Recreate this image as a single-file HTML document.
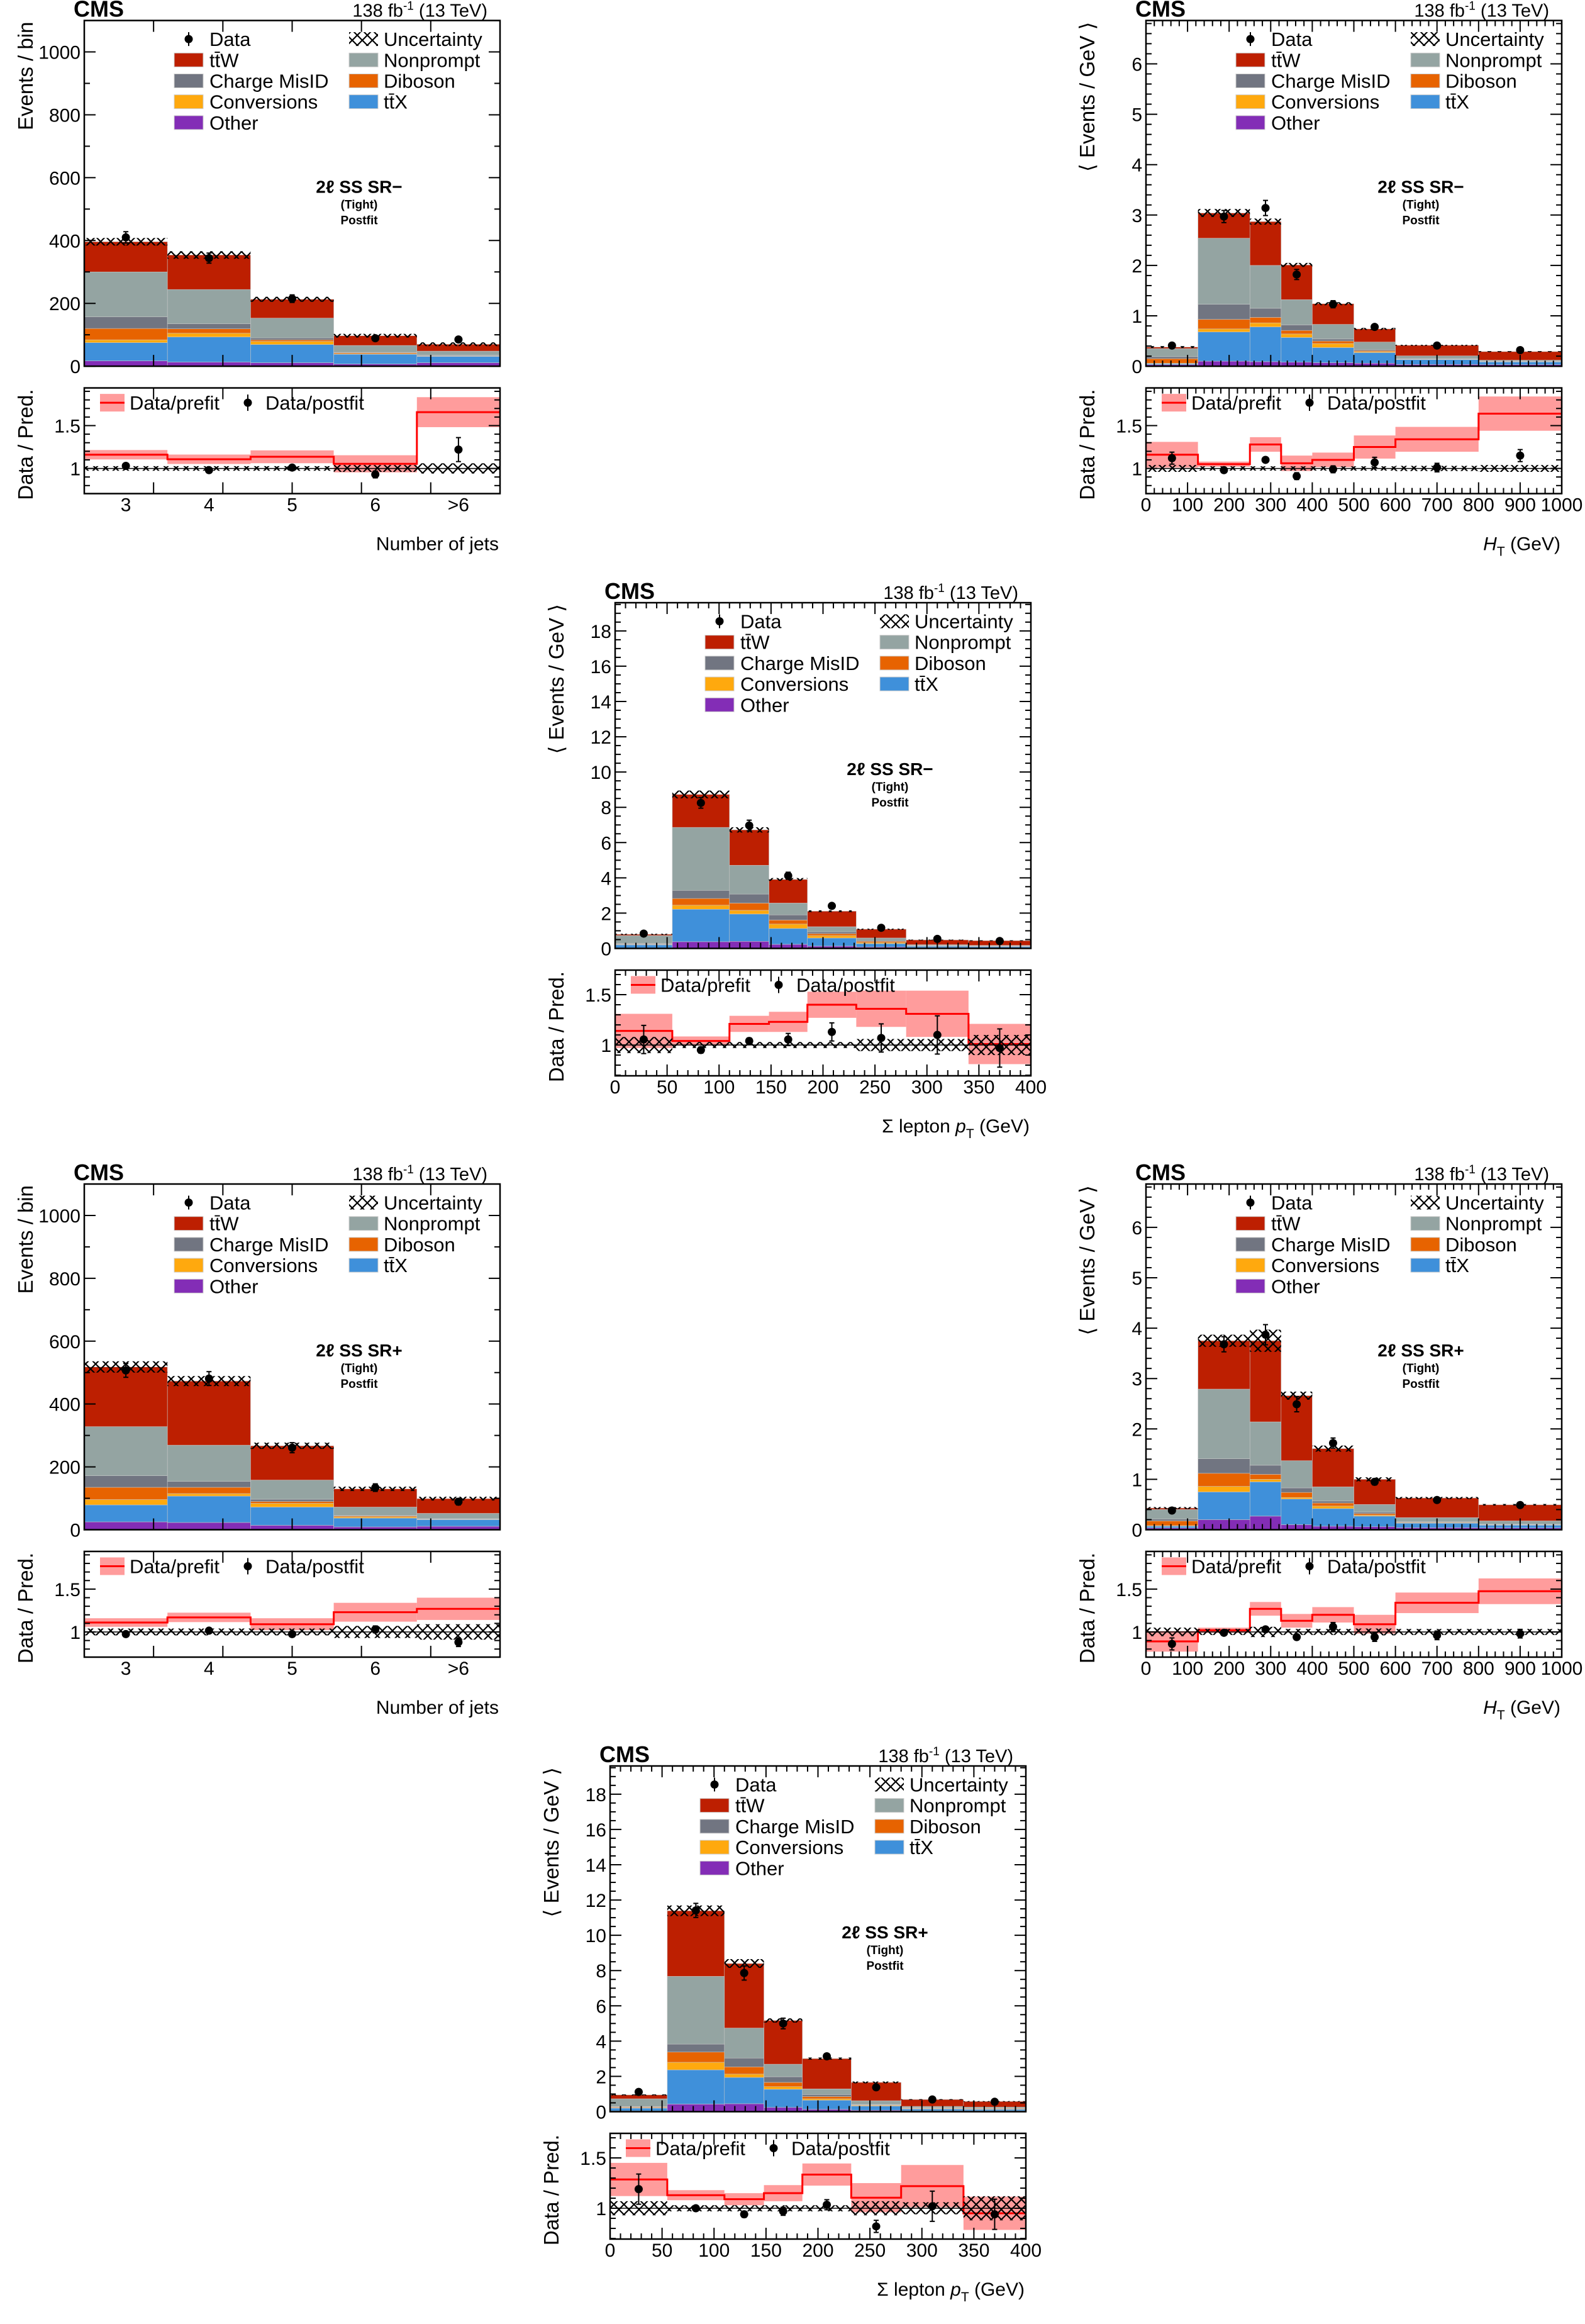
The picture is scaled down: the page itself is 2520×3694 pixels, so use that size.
<!DOCTYPE html>
<html><head><meta charset="utf-8"><style>
html,body{margin:0;padding:0;background:#fff;}
svg{display:block;font-family:"Liberation Sans",sans-serif;}
</style></head><body>
<svg id="fig" xmlns="http://www.w3.org/2000/svg" width="2520" height="3694" viewBox="0 0 2520 3694">
<defs>
<pattern id="hatch" width="16" height="16" patternUnits="userSpaceOnUse"><path d="M0,0 L16,16 M16,0 L0,16" stroke="#000" stroke-width="2.2"/></pattern>
</defs>
</svg>
<script>
// ---------- Panel 1: Njets SR- ----------
const p1Edges=[2.5,3.5,4.5,5.5,6.5,7.5];
const p1Other=[17,13,11,7,11];
const p1Ttx=[58,80,58,31,20];
const p1Conv=[9,12,10,2,1];
const p1Dib=[36,14,5,3,1];
const p1Cmid=[37,16,6,1,2];
const p1Np=[143,109,63,22,13];
const p1Ttw=[96,110,60,31,22];
const p1Data=[410,344,215,89,85];
const p1DataErr=[18,16,12,8,8];
const p1Unc=[12,12,8,6,6];
const p1Prefit=[1.16,1.107,1.136,1.054,1.657];
const p1PrefitErr=[0.055,0.055,0.075,0.1,0.175];
const p1Postfit=[1.03,0.98,1.01,0.93,1.22];
const p1PostfitErr=[0.02,0.02,0.03,0.04,0.14];
const p1RatioUnc=[0.027,0.027,0.027,0.04,0.06];
// ---------- Panel 2: HT SR- ----------
const p2Edges=[0,125,250,325,400,500,600,800,1000];
const p2Other=[0.03,0.10,0.09,0.08,0.07,0.06,0.035,0.03];
const p2Ttx=[0.02,0.58,0.69,0.49,0.30,0.21,0.095,0.055];
const p2Conv=[0.01,0.06,0.08,0.07,0.08,0.02,0.005,0.005];
const p2Dib=[0.09,0.19,0.11,0.07,0.05,0.02,0.005,0.005];
const p2Cmid=[0.04,0.30,0.18,0.11,0.04,0.02,0.01,0.005];
const p2Np=[0.16,1.31,0.85,0.50,0.29,0.15,0.055,0.02];
const p2Ttw=[0.03,0.50,0.87,0.69,0.41,0.26,0.21,0.17];
const p2Data=[0.41,2.97,3.14,1.82,1.23,0.78,0.41,0.32];
const p2DataErr=[0.03,0.12,0.15,0.1,0.07,0.05,0.03,0.02];
const p2Unc=[0.02,0.08,0.06,0.04,0.03,0.02,0.01,0.01];
const p2Prefit=[1.16,1.05,1.28,1.06,1.10,1.25,1.34,1.64];
const p2PrefitErr=[0.15,0.03,0.085,0.09,0.085,0.135,0.145,0.2];
const p2Postfit=[1.12,0.98,1.10,0.91,0.99,1.07,1.01,1.15];
const p2PostfitErr=[0.07,0.02,0.03,0.04,0.04,0.06,0.05,0.07];
const p2RatioUnc=[0.04,0.025,0.025,0.025,0.025,0.025,0.03,0.04];
// ---------- Panel 3: sum lepton pT SR- ----------
const p3Edges=[0,55,110,148,185,232,280,340,400];
const p3Other=[0.03,0.38,0.40,0.23,0.13,0.08,0.04,0.04];
const p3Ttx=[0.17,1.84,1.55,0.90,0.46,0.19,0.08,0.06];
const p3Conv=[0.02,0.23,0.21,0.25,0.14,0.06,0.02,0.02];
const p3Dib=[0.03,0.38,0.41,0.23,0.11,0.07,0.02,0.02];
const p3Cmid=[0.03,0.46,0.51,0.29,0.10,0.04,0.01,0.01];
const p3Np=[0.45,3.57,1.63,0.67,0.29,0.15,0.04,0.02];
const p3Ttw=[0.07,1.87,2.01,1.34,0.88,0.50,0.27,0.27];
const p3Data=[0.84,8.25,6.97,4.12,2.41,1.17,0.54,0.42];
const p3DataErr=[0.05,0.3,0.3,0.2,0.12,0.07,0.04,0.03];
const p3Unc=[0.03,0.22,0.15,0.08,0.05,0.03,0.02,0.02];
const p3Prefit=[1.14,1.04,1.21,1.23,1.40,1.36,1.31,1.01];
const p3PrefitErr=[0.17,0.045,0.08,0.1,0.13,0.18,0.23,0.2];
const p3Postfit=[1.055,0.95,1.04,1.055,1.13,1.07,1.10,0.97];
const p3PostfitErr=[0.14,0.03,0.03,0.06,0.09,0.14,0.19,0.19];
const p3RatioUnc=[0.08,0.03,0.03,0.03,0.03,0.06,0.06,0.1];
// ---------- Panel 4: Njets SR+ ----------
const p4Edges=[2.5,3.5,4.5,5.5,6.5,7.5];
const p4Other=[25,23,14,9,11];
const p4Ttx=[54,84,58,28,21];
const p4Conv=[17,8,12,4,1];
const p4Dib=[39,20,6,3,1];
const p4Cmid=[37,19,7,1,1];
const p4Np=[156,115,61,27,17];
const p4Ttw=[190,204,109,58,47];
const p4Data=[507,481,261,134,89];
const p4DataErr=[22,22,16,12,10];
const p4Unc=[18,16,10,7,6];
const p4Prefit=[1.11,1.17,1.09,1.23,1.27];
const p4PrefitErr=[0.05,0.055,0.07,0.11,0.13];
const p4Postfit=[0.975,1.015,0.975,1.03,0.88];
const p4PostfitErr=[0.02,0.02,0.03,0.04,0.05];
const p4RatioUnc=[0.04,0.04,0.04,0.07,0.09];
// ---------- Panel 5: HT SR+ ----------
const p5Edges=[0,125,250,325,400,500,600,800,1000];
const p5Other=[0.035,0.20,0.27,0.10,0.07,0.06,0.04,0.035];
const p5Ttx=[0.035,0.55,0.68,0.51,0.35,0.21,0.09,0.055];
const p5Conv=[0.01,0.11,0.05,0.03,0.05,0.02,0.01,0.008];
const p5Dib=[0.095,0.26,0.10,0.10,0.06,0.03,0.01,0.007];
const p5Cmid=[0.035,0.29,0.18,0.09,0.04,0.03,0.01,0.005];
const p5Np=[0.19,1.38,0.86,0.54,0.28,0.15,0.08,0.065];
const p5Ttw=[0.03,0.96,1.61,1.29,0.76,0.50,0.39,0.32];
const p5Data=[0.38,3.68,3.87,2.49,1.72,0.95,0.59,0.49];
const p5DataErr=[0.03,0.15,0.2,0.15,0.1,0.06,0.04,0.03];
const p5Unc=[0.02,0.12,0.22,0.08,0.06,0.04,0.02,0.015];
const p5Prefit=[0.89,1.02,1.27,1.13,1.20,1.09,1.34,1.475];
const p5PrefitErr=[0.12,0.03,0.08,0.08,0.09,0.11,0.12,0.15];
const p5Postfit=[0.86,0.99,1.03,0.94,1.06,0.94,0.96,0.98];
const p5PostfitErr=[0.07,0.02,0.03,0.03,0.05,0.05,0.05,0.05];
const p5RatioUnc=[0.05,0.035,0.06,0.035,0.035,0.04,0.035,0.035];
// ---------- Panel 6: sum lepton pT SR+ ----------
const p6Edges=[0,55,110,148,185,232,280,340,400];
const p6Other=[0.04,0.43,0.45,0.24,0.13,0.08,0.05,0.05];
const p6Ttx=[0.16,1.94,1.49,1.03,0.52,0.24,0.10,0.08];
const p6Conv=[0.03,0.43,0.19,0.15,0.08,0.04,0.03,0.03];
const p6Dib=[0.04,0.58,0.41,0.24,0.13,0.03,0.03,0.03];
const p6Cmid=[0.02,0.45,0.50,0.32,0.11,0.02,0.02,0.01];
const p6Np=[0.44,3.84,1.70,0.71,0.32,0.21,0.07,0.06];
const p6Ttw=[0.22,3.72,3.66,2.48,1.72,1.04,0.39,0.32];
const p6Data=[1.12,11.41,7.86,5.0,3.14,1.38,0.69,0.56];
const p6DataErr=[0.06,0.4,0.4,0.3,0.15,0.08,0.04,0.04];
const p6Unc=[0.03,0.3,0.25,0.12,0.06,0.05,0.02,0.02];
const p6Prefit=[1.286,1.13,1.09,1.15,1.335,1.105,1.22,0.95];
const p6PrefitErr=[0.165,0.05,0.06,0.08,0.11,0.145,0.21,0.165];
const p6Postfit=[1.19,1.0,0.94,0.97,1.035,0.82,1.02,0.94];
const p6PostfitErr=[0.15,0.02,0.03,0.04,0.05,0.06,0.15,0.15];
const p6RatioUnc=[0.07,0.03,0.03,0.03,0.03,0.07,0.06,0.12];

const jetLabels=["3","4","5","6",">6"];
const procNames=["other","ttx","conversions","diboson","charge-misid","nonprompt","ttw"];
const procColors=["#832db6","#3f90da","#ffa90e","#e76300","#717581","#94a4a2","#bd1f01"];

const NS="http://www.w3.org/2000/svg";
const svg=document.getElementById('fig');
function mk(tag,parent){const e=document.createElementNS(NS,tag);parent.appendChild(e);return e;}
function at(e,o){for(const k in o)e.setAttribute(k,o[k]);return e;}
function txt(parent,x,y,s,size,anchor,weight){const t=mk('text',parent);at(t,{x:x,y:y,'font-size':size,'text-anchor':anchor||'start','font-weight':weight||'normal',fill:'#000'});t.textContent=s;return t;}

const FW=661, MH=549.5, RT=584, RH=168;

function drawPanel(c){
  const g=mk('g',svg);
  
  
  const L=c.L,T=c.T;
  const x0=c.edges[0],x1=c.edges[c.edges.length-1];
  const X=v=>L+(v-x0)/(x1-x0)*FW;
  const Y=v=>T+MH-v/c.yMax*MH;
  const RT0=T+RT;
  const R=v=>RT0+RH*(c.rMax-v)/(c.rMax-c.rMin);
  const clipId='clip'+c.id, rclipId='rclip'+c.id;
  const defs=mk('defs',g);
  const cp=mk('clipPath',defs);cp.setAttribute('id',clipId);at(mk('rect',cp),{x:L,y:T,width:FW,height:MH});
  const rcp=mk('clipPath',defs);rcp.setAttribute('id',rclipId);at(mk('rect',rcp),{x:L,y:RT0,width:FW,height:RH});
  const sg=mk('g',g);sg.setAttribute('clip-path','url(#'+clipId+')');
  const comps=[c.other,c.ttx,c.conv,c.dib,c.cmid,c.np,c.ttw];
  const n=c.data.length;
  const totals=[];
  for(let i=0;i<n;i++){
    let cum=0;
    for(let p=0;p<comps.length;p++){
      const v=comps[p][i];
      const r=mk('rect',sg);
      at(r,{x:X(c.edges[i]),y:Y(cum+v),width:X(c.edges[i+1])-X(c.edges[i]),height:Math.max(0,Y(cum)-Y(cum+v)),fill:procColors[p],stroke:'#c8c8c8','stroke-width':0.6});
      
      
      cum+=v;
    }
    totals.push(cum);
  }
  for(let i=0;i<n;i++){
    const h=mk('rect',sg);
    at(h,{x:X(c.edges[i]),y:Y(totals[i]+c.unc[i]),width:X(c.edges[i+1])-X(c.edges[i]),height:Y(totals[i]-c.unc[i])-Y(totals[i]+c.unc[i]),fill:'url(#hatch)'});
    
    
  }
  for(let i=0;i<n;i++){
    const cx=(X(c.edges[i])+X(c.edges[i+1]))/2;
    const pg=mk('g',g);
    
    
    at(mk('line',pg),{x1:cx,x2:cx,y1:Y(c.data[i]+c.dataErr[i]),y2:Y(c.data[i]-c.dataErr[i]),stroke:'#000','stroke-width':2});
    at(mk('line',pg),{x1:cx-4,x2:cx+4,y1:Y(c.data[i]+c.dataErr[i]),y2:Y(c.data[i]+c.dataErr[i]),stroke:'#000','stroke-width':2});
    at(mk('line',pg),{x1:cx-4,x2:cx+4,y1:Y(c.data[i]-c.dataErr[i]),y2:Y(c.data[i]-c.dataErr[i]),stroke:'#000','stroke-width':2});
    at(mk('circle',pg),{cx:cx,cy:Y(c.data[i]),r:6.5,fill:'#000'});
  }
  const rg=mk('g',g);rg.setAttribute('clip-path','url(#'+rclipId+')');
  
  
  for(let i=0;i<n;i++){
    const b=mk('rect',rg);
    at(b,{x:X(c.edges[i]),y:R(c.prefit[i]+c.prefitErr[i]),width:X(c.edges[i+1])-X(c.edges[i]),height:R(c.prefit[i]-c.prefitErr[i])-R(c.prefit[i]+c.prefitErr[i]),fill:'#ff9c9c'});
    
    
  }
  let d='';
  for(let i=0;i<n;i++){d+=(i===0?'M':'L')+X(c.edges[i])+','+R(c.prefit[i])+' L'+X(c.edges[i+1])+','+R(c.prefit[i])+' ';}
  const pl=mk('path',rg);at(pl,{d:d,fill:'none',stroke:'#ff0000','stroke-width':3});
  
  
  for(let i=0;i<n;i++){
    const h=mk('rect',rg);
    at(h,{x:X(c.edges[i]),y:R(1+c.ratioUnc[i]),width:X(c.edges[i+1])-X(c.edges[i]),height:R(1-c.ratioUnc[i])-R(1+c.ratioUnc[i]),fill:'url(#hatch)'});
    
    
  }
  at(mk('line',rg),{x1:L,x2:L+FW,y1:R(1),y2:R(1),stroke:'#000','stroke-width':1.5});
  for(let i=0;i<n;i++){
    const cx=(X(c.edges[i])+X(c.edges[i+1]))/2;
    const pg=mk('g',rg);
    
    
    at(mk('line',pg),{x1:cx,x2:cx,y1:R(c.postfit[i]+c.postfitErr[i]),y2:R(c.postfit[i]-c.postfitErr[i]),stroke:'#000','stroke-width':2});
    at(mk('line',pg),{x1:cx-4,x2:cx+4,y1:R(c.postfit[i]+c.postfitErr[i]),y2:R(c.postfit[i]+c.postfitErr[i]),stroke:'#000','stroke-width':2});
    at(mk('line',pg),{x1:cx-4,x2:cx+4,y1:R(c.postfit[i]-c.postfitErr[i]),y2:R(c.postfit[i]-c.postfitErr[i]),stroke:'#000','stroke-width':2});
    at(mk('circle',pg),{cx:cx,cy:R(c.postfit[i]),r:6.5,fill:'#000'});
  }
  const f1=mk('rect',g);at(f1,{x:L,y:T,width:FW,height:MH,fill:'none',stroke:'#000','stroke-width':2.5});
  
  
  const f2=mk('rect',g);at(f2,{x:L,y:RT0,width:FW,height:RH,fill:'none',stroke:'#000','stroke-width':2.5});
  
  
  const tg=mk('g',g);
  
  
  function tick(x1,y1,x2,y2){at(mk('line',tg),{x1:x1,y1:y1,x2:x2,y2:y2,stroke:'#000','stroke-width':2});}
  for(let v=0;v<=c.yMax+1e-9;v+=c.yMinor){
    const maj=Math.abs(v/c.yMajor-Math.round(v/c.yMajor))<1e-6;
    const len=maj?18:9, y=Y(v);
    tick(L,y,L+len,y);tick(L+FW,y,L+FW-len,y);
    if(maj){const t=txt(g,L-6,y+11,c.yFmt(v),30,'end');}
  }
  for(let v=0.7;v<=c.rMax+1e-9;v+=0.1){
    const vv=Math.round(v*10)/10;
    if(vv<c.rMin)continue;
    const maj=Math.abs(vv*2-Math.round(vv*2))<1e-6;
    const len=maj?18:9, y=R(vv);
    tick(L,y,L+len,y);tick(L+FW,y,L+FW-len,y);
    if(maj){const t=txt(g,L-6,y+11,vv===1?'1':'1.5',30,'end');}
  }
  for(const tk of c.xTicks){
    const x=X(tk.v),len=tk.major?18:9;
    tick(x,T+MH,x,T+MH-len);tick(x,T,x,T+len);
    tick(x,RT0+RH,x,RT0+RH-len);tick(x,RT0,x,RT0+len);
  }
  for(const lb of c.xLabels){
    const t=txt(g,X(lb.v),T+780,lb.s,30,'middle');
    
    
  }
  const cms=txt(g,L-17,T-6,'CMS',36,'start','bold');
  
  
  const lumi=mk('text',g);at(lumi,{x:L+641,y:T-6,'font-size':29,'text-anchor':'end'});
  
  
  lumi.innerHTML='138 fb<tspan dy="-11" font-size="19">-1</tspan><tspan dy="11"> (13 TeV)</tspan>';
  const yt=mk('text',g);at(yt,{x:0,y:0,'font-size':33,'text-anchor':'end',transform:'translate('+(L-82)+','+(T+2)+') rotate(-90)'});
  yt.textContent=c.yTitle;
  
  
  const rt=mk('text',g);at(rt,{x:0,y:0,'font-size':33,'text-anchor':'end',transform:'translate('+(L-82)+','+(RT0+2)+') rotate(-90)'});
  rt.textContent='Data / Pred.';
  
  
  const xt=mk('text',g);at(xt,{x:L+FW-2,y:T+842,'font-size':30,'text-anchor':'end'});
  xt.innerHTML=c.xTitle;
  
  
  const rl=txt(g,L+437,T+274,c.region,28,'middle','bold');
  
  
  const tl=txt(g,L+437,T+299,'(Tight)',19,'middle','bold');
  
  
  const pf=txt(g,L+437,T+324,'Postfit',19,'middle','bold');
  
  
  const lg=mk('g',g);
  
  
  const rows=[T+29.5,T+62.7,T+95.9,T+129.1,T+162.3];
  const le0=mk('g',lg);
  
  
  at(mk('line',le0),{x1:L+166,x2:L+166,y1:rows[0]-11,y2:rows[0]+11,stroke:'#000','stroke-width':2});
  at(mk('circle',le0),{cx:L+166,cy:rows[0],r:6.5,fill:'#000'});
  txt(le0,L+199,rows[0]+11,'Data',31);
  const col1=[["tt̄W",6,1],["Charge MisID",4,2],["Conversions",2,3],["Other",0,4]];
  for(const e of col1){
    const eg=mk('g',lg);
    
    
    at(mk('rect',eg),{x:L+143,y:rows[e[2]]-11,width:46,height:22,fill:procColors[e[1]],stroke:'#ccc','stroke-width':1});
    txt(eg,L+199,rows[e[2]]+11,e[0],31);
  }
  const eu=mk('g',lg);
  
  
  at(mk('rect',eu),{x:L+421,y:rows[0]-11,width:46,height:22,fill:'url(#hatch)'});
  txt(eu,L+476,rows[0]+11,'Uncertainty',31);
  const col2=[["Nonprompt",5,1],["Diboson",3,2],["tt̄X",1,3]];
  for(const e of col2){
    const eg=mk('g',lg);
    
    
    at(mk('rect',eg),{x:L+421,y:rows[e[2]]-11,width:46,height:22,fill:procColors[e[1]],stroke:'#ccc','stroke-width':1});
    txt(eg,L+476,rows[e[2]]+11,e[0],31);
  }
  const rlg=mk('g',g);
  
  
  const ry=RT0+23.5;
  at(mk('rect',rlg),{x:L+25,y:ry-14,width:39,height:28,fill:'#ff9c9c'});
  at(mk('line',rlg),{x1:L+25,x2:L+64,y1:ry,y2:ry,stroke:'#ff0000','stroke-width':3});
  txt(rlg,L+72,ry+11,'Data/prefit',31);
  at(mk('line',rlg),{x1:L+260,x2:L+260,y1:ry-13,y2:ry+13,stroke:'#000','stroke-width':2});
  at(mk('circle',rlg),{cx:L+260,cy:ry,r:6.5,fill:'#000'});
  txt(rlg,L+288,ry+11,'Data/postfit',31);
}

function jetTicks(){const a=[];for(let k=1;k<6;k++)a.push({v:2.5+k*5/6,major:true});return a;}
function jetLbls(){return jetLabels.map((s,i)=>({v:3+i,s:s}));}
function htTicks(){const a=[];for(let v=0;v<=1000;v+=20)a.push({v:v,major:v%100===0});return a;}
function htLbls(){const a=[];for(let v=0;v<=1000;v+=100)a.push({v:v,s:String(v)});return a;}
function ptTicks(){const a=[];for(let v=0;v<=400;v+=10)a.push({v:v,major:v%50===0});return a;}
function ptLbls(){const a=[];for(let v=0;v<=400;v+=50)a.push({v:v,s:String(v)});return a;}
const intFmt=v=>String(Math.round(v));

const HTt='<tspan font-style="italic">H</tspan><tspan dy="9" font-size="21">T</tspan><tspan dy="-9"> (GeV)</tspan>';
const PTt='Σ lepton <tspan font-style="italic">p</tspan><tspan dy="9" font-size="21">T</tspan><tspan dy="-9"> (GeV)</tspan>';
const SRm='2\u2113 SS SR\u2212', SRp='2\u2113 SS SR+';

function cfg(id,name,L,T,a,kind,region){
  const o={id:id,name:name,L:L,T:T,region:region,
    edges:a[0],other:a[1],ttx:a[2],conv:a[3],dib:a[4],cmid:a[5],np:a[6],ttw:a[7],data:a[8],dataErr:a[9],unc:a[10],
    prefit:a[11],prefitErr:a[12],postfit:a[13],postfitErr:a[14],ratioUnc:a[15],yFmt:intFmt};
  if(kind==='jets'){Object.assign(o,{yMax:1100,yMajor:200,yMinor:100,rMin:0.706,rMax:1.94,xTicks:jetTicks(),xLabels:jetLbls(),yTitle:'Events / bin',xTitle:'Number of jets'});}
  if(kind==='ht'){Object.assign(o,{yMax:6.86,yMajor:1,yMinor:0.2,rMin:0.706,rMax:1.94,xTicks:htTicks(),xLabels:htLbls(),yTitle:'\u27E8 Events / GeV \u27E9',xTitle:HTt});}
  if(kind==='pt'){Object.assign(o,{yMax:19.6,yMajor:2,yMinor:0.5,rMin:0.694,rMax:1.744,xTicks:ptTicks(),xLabels:ptLbls(),yTitle:'\u27E8 Events / GeV \u27E9',xTitle:PTt});}
  return o;
}

drawPanel(cfg(1,'panel-njets-srminus',134,32.6,[p1Edges,p1Other,p1Ttx,p1Conv,p1Dib,p1Cmid,p1Np,p1Ttw,p1Data,p1DataErr,p1Unc,p1Prefit,p1PrefitErr,p1Postfit,p1PostfitErr,p1RatioUnc],'jets',SRm));
drawPanel(cfg(2,'panel-ht-srminus',1822,32.6,[p2Edges,p2Other,p2Ttx,p2Conv,p2Dib,p2Cmid,p2Np,p2Ttw,p2Data,p2DataErr,p2Unc,p2Prefit,p2PrefitErr,p2Postfit,p2PostfitErr,p2RatioUnc],'ht',SRm));
drawPanel(cfg(3,'panel-leppt-srminus',978,958,[p3Edges,p3Other,p3Ttx,p3Conv,p3Dib,p3Cmid,p3Np,p3Ttw,p3Data,p3DataErr,p3Unc,p3Prefit,p3PrefitErr,p3Postfit,p3PostfitErr,p3RatioUnc],'pt',SRm));
drawPanel(cfg(4,'panel-njets-srplus',134,1882,[p4Edges,p4Other,p4Ttx,p4Conv,p4Dib,p4Cmid,p4Np,p4Ttw,p4Data,p4DataErr,p4Unc,p4Prefit,p4PrefitErr,p4Postfit,p4PostfitErr,p4RatioUnc],'jets',SRp));
drawPanel(cfg(5,'panel-ht-srplus',1822,1882,[p5Edges,p5Other,p5Ttx,p5Conv,p5Dib,p5Cmid,p5Np,p5Ttw,p5Data,p5DataErr,p5Unc,p5Prefit,p5PrefitErr,p5Postfit,p5PostfitErr,p5RatioUnc],'ht',SRp));
drawPanel(cfg(6,'panel-leppt-srplus',970,2807,[p6Edges,p6Other,p6Ttx,p6Conv,p6Dib,p6Cmid,p6Np,p6Ttw,p6Data,p6DataErr,p6Unc,p6Prefit,p6PrefitErr,p6Postfit,p6PostfitErr,p6RatioUnc],'pt',SRp));
</script>
</body></html>
